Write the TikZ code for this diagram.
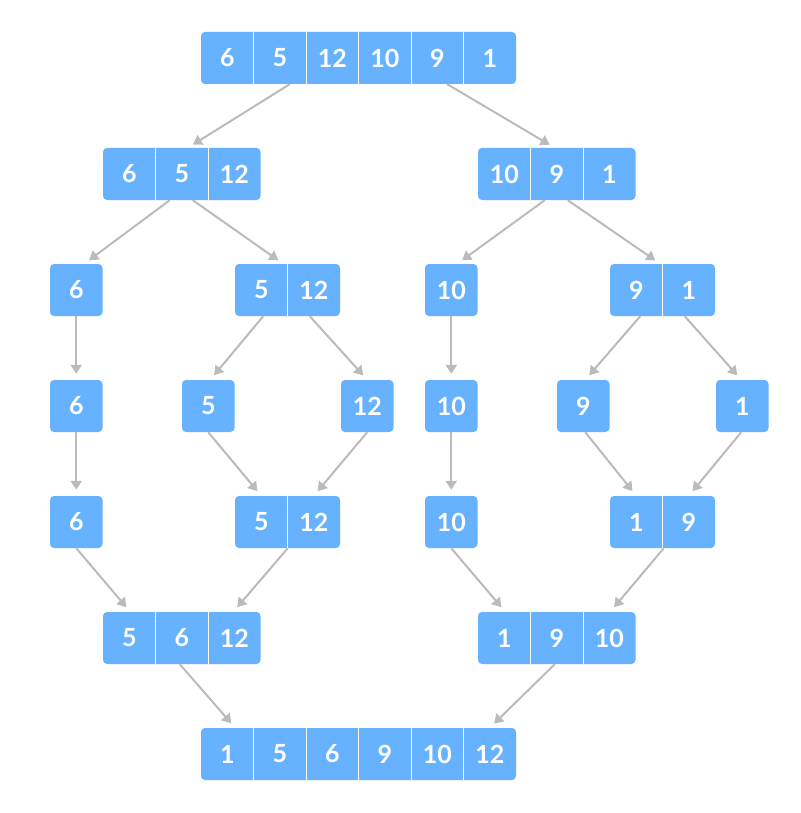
\documentclass[tikz,border=0pt]{standalone}
\usepackage{fontspec}
\setmainfont{Lato}
\usetikzlibrary{arrows.meta}
\definecolor{cellblue}{HTML}{66B2FF}
\definecolor{arrgray}{HTML}{BBBBBB}
\tikzset{
  cell/.style={minimum width=52.5pt, minimum height=52pt, inner sep=0pt,
    text=white, font=\fontsize{25}{30}\selectfont\bfseries},
  arr/.style={draw=arrgray, line width=2pt, shorten >=6pt,
    -{Triangle[width=11pt,length=9pt]}},
}
% array of cells: prefix, left x, top y, values
\newcommand{\mergearray}[4]{%
  \foreach \v [count=\i] in {#4} {\xdef\ncells{\i}}
  \fill[cellblue, rounded corners=4pt] (#2,#3) rectangle ++(52.5*\ncells,52);
  \foreach \v [count=\i] in {#4} {
    \node[cell] (#1\i) at (#2+52.5*\i-26.25,#3+26) {\v};
    \ifnum\i>1 \draw[white, line width=1pt] (#2+52.5*\i-52.5,#3) -- ++(0,52); \fi
  }%
}
\begin{document}
\begin{tikzpicture}[x=1pt,y=-1pt]
  \useasboundingbox (0,0) rectangle (800,813);

  % splitting
  \mergearray{top}{201}{32}{6,5,12,10,9,1}
  \mergearray{lb}{103}{148}{6,5,12}
  \mergearray{rb}{478}{148}{10,9,1}
  \mergearray{lla}{50}{264}{6}
  \mergearray{llb}{235}{264}{5,12}
  \mergearray{rra}{425}{264}{10}
  \mergearray{rrb}{610}{264}{9,1}
  \mergearray{sa}{50}{380}{6}
  \mergearray{sb}{182}{380}{5}
  \mergearray{sc}{341}{380}{12}
  \mergearray{sd}{425}{380}{10}
  \mergearray{se}{557}{380}{9}
  \mergearray{sf}{716}{380}{1}

  % merging
  \mergearray{ma}{50}{496}{6}
  \mergearray{mb}{235}{496}{5,12}
  \mergearray{mc}{425}{496}{10}
  \mergearray{md}{610}{496}{1,9}
  \mergearray{ml}{103}{612}{5,6,12}
  \mergearray{mr}{478}{612}{1,9,10}
  \mergearray{res}{201}{728}{1,5,6,9,10,12}

  \draw[arr] ([xshift=10pt]top2.south) -- ([xshift=6pt]lb2.north);
  \draw[arr] ([xshift=10pt]top5.south) -- ([xshift=-2pt]rb2.north);
  \draw[arr] ([xshift=-12pt]lb2.south) -- ([xshift=8pt]lla1.north);
  \draw[arr] ([xshift=11pt]lb2.south) -- ([xshift=22pt]llb1.north);
  \draw[arr] ([xshift=-12pt]rb2.south) -- ([xshift=6pt]rra1.north);
  \draw[arr] ([xshift=11pt]rb2.south) -- ([xshift=24pt]rrb1.north);

  \draw[arr] (lla1) -- (sa1);
  \draw[arr] ([xshift=2pt]llb1.south) -- ([xshift=2pt]sb1.north);
  \draw[arr] ([xshift=-4pt]llb2.south) -- (sc1.north);
  \draw[arr] (rra1) -- (sd1);
  \draw[arr] ([xshift=4pt]rrb1.south) -- ([xshift=2pt]se1.north);
  \draw[arr] ([xshift=-4pt]rrb2.south) -- ([xshift=-1pt]sf1.north);

  \draw[arr] (sa1) -- (ma1);
  \draw[arr] (sb1.south) -- (mb1.north);
  \draw[arr] (sc1.south) -- (mb2.north);
  \draw[arr] (sd1) -- (mc1);
  \draw[arr] ([xshift=2pt]se1.south) -- (md1.north);
  \draw[arr] ([xshift=-1pt]sf1.south) -- (md2.north);

  \draw[arr] (ma1.south) -- ([xshift=1pt]ml1.north);
  \draw[arr] ([xshift=-26pt]mb2.south) -- ([xshift=-1pt]ml3.north);
  \draw[arr] (mc1.south) -- ([xshift=1pt]mr1.north);
  \draw[arr] ([xshift=-25pt]md2.south) -- ([xshift=1pt]mr3.north);
  \draw[arr] ([xshift=-2pt]ml2.south) -- ([xshift=8pt]res1.north);
  \draw[arr] ([xshift=-2pt]mr2.south) -- (res6.north);
\end{tikzpicture}
\end{document}
